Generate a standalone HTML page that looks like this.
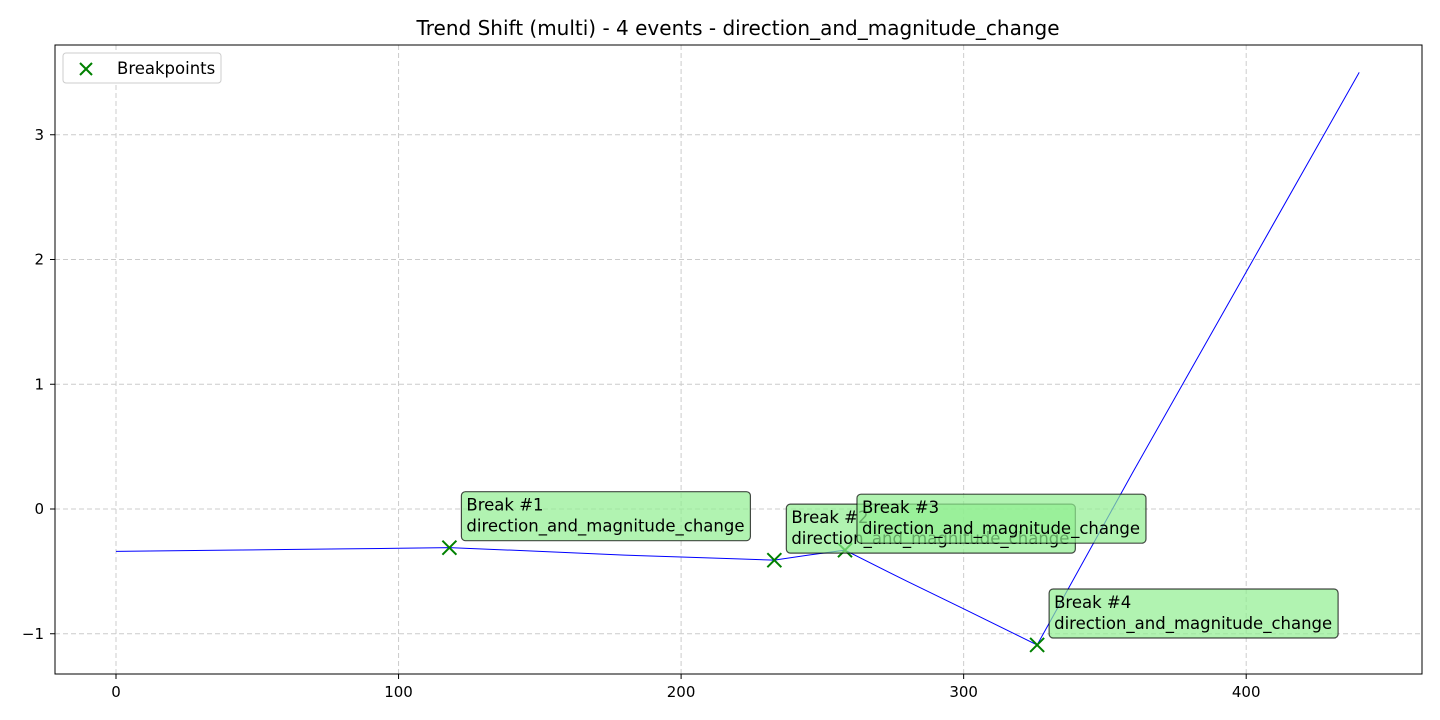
<!DOCTYPE html>
<html><head><meta charset="utf-8"><style>
body{margin:0;background:#fff;}
svg{display:block;font-family:"DejaVu Sans","Liberation Sans",sans-serif;}
</style></head><body>
<svg id="chart" width="1440" height="720">
<rect x="0" y="0" width="1440" height="720" fill="#fff"/>
<text x="738" y="35" font-size="20" text-anchor="middle">Trend Shift (multi) - 4 events - direction_and_magnitude_change</text>
<g id="grid"></g><g id="axes"></g><g id="series"></g><g id="marks"></g><g id="annots"></g>
<rect x="55" y="45" width="1367" height="629" fill="none" stroke="#000" stroke-width="1"/>
<g>
<rect x="63" y="53" width="158" height="30" rx="3" fill="#fff" stroke="#ccc"/>
<g stroke="green" stroke-width="2"><line x1="80" y1="63" x2="92" y2="75"/><line x1="92" y1="63" x2="80" y2="75"/></g>
<text x="117" y="74" font-size="16.5">Breakpoints</text>
</g>
</svg>
<script>
const xTicks=[0,100,200,300,400];
const yTicks=[-1,0,1,2,3];
const lineX=[0,20,40,60,80,100,118,140,160,180,200,220,233,245,258,280,300,326,360,400,440];
const lineY=[-0.34,-0.335,-0.33,-0.325,-0.32,-0.315,-0.31,-0.33,-0.35,-0.37,-0.385,-0.40,-0.41,-0.37,-0.33,-0.58,-0.80,-1.09,0.30,1.90,3.50];
const breakX=[118,233,258,326];
const breakY=[-0.31,-0.41,-0.33,-1.09];
const breakLabels=["Break #1","Break #2","Break #3","Break #4"];
const ns="http://www.w3.org/2000/svg";
const X=v=>116+v*2.8255, Y=v=>509-v*124.75;
function mk(p,t,a){const e=document.createElementNS(ns,t);for(const k in a)e.setAttribute(k,a[k]);p.appendChild(e);return e;}
const grid=document.getElementById('grid'),axes=document.getElementById('axes');
xTicks.forEach(t=>{
 const g=mk(grid,'line',{x1:X(t),x2:X(t),y1:45,y2:674,stroke:'#ccc','stroke-dasharray':'5,3'});
 
 
 mk(axes,'line',{x1:X(t),x2:X(t),y1:674,y2:679,stroke:'#000'});
 const tx=mk(axes,'text',{x:X(t),y:697,'font-size':15,'text-anchor':'middle'});tx.textContent=t;
 
 
});
yTicks.forEach(t=>{
 const g=mk(grid,'line',{x1:55,x2:1422,y1:Y(t),y2:Y(t),stroke:'#ccc','stroke-dasharray':'5,3'});
 
 
 mk(axes,'line',{x1:50,x2:55,y1:Y(t),y2:Y(t),stroke:'#000'});
 const tx=mk(axes,'text',{x:44,y:Y(t)+5,'font-size':15,'text-anchor':'end'});tx.textContent=(t<0?'\u2212'+(-t):t);
 
 
});
const pl=mk(document.getElementById('series'),'polyline',{points:lineX.map((x,i)=>X(x)+','+Y(lineY[i])).join(' '),fill:'none',stroke:'blue','stroke-width':1});


const marks=document.getElementById('marks'),ann=document.getElementById('annots');
breakX.forEach((bx,i)=>{
 const cx=X(bx),cy=Y(breakY[i]);
 const m=mk(marks,'path',{d:`M${cx-7},${cy-7}L${cx+7},${cy+7}M${cx+7},${cy-7}L${cx-7},${cy+7}`,stroke:'green','stroke-width':2});
 
 
 const g=mk(ann,'g',{});
 
 
 const bxl=cx+12,byt=cy-56;
 mk(g,'rect',{x:bxl,y:byt,width:289,height:49,rx:4,fill:'rgba(144,238,144,0.7)',stroke:'rgba(0,0,0,0.7)','stroke-width':1.2});
 const t1=mk(g,'text',{x:bxl+5,y:byt+19,'font-size':16.5});t1.textContent=breakLabels[i];
 const t2=mk(g,'text',{x:bxl+5,y:byt+40,'font-size':16.5});t2.textContent='direction_and_magnitude_change';
});
</script>
</body></html>
